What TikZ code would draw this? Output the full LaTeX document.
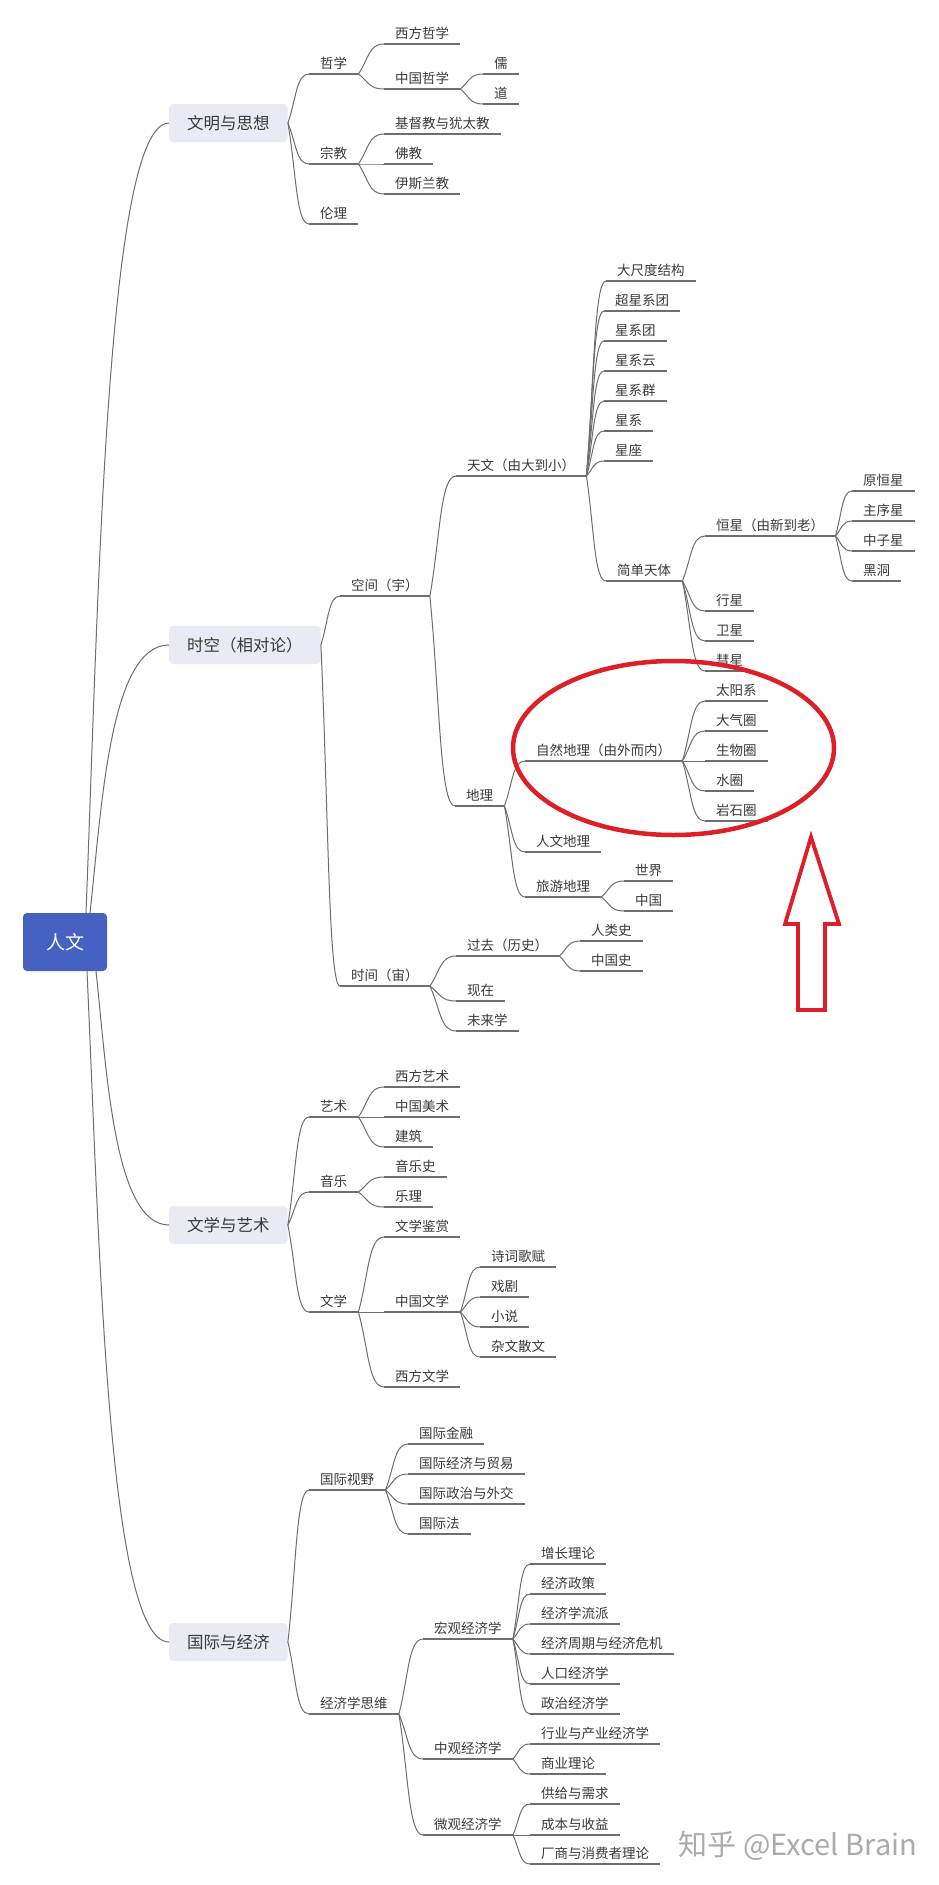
\documentclass[tikz,border=0pt]{standalone}
\usepackage{fontspec}
\setmainfont{Noto Sans CJK SC}
\usetikzlibrary{calc}
\definecolor{linec}{HTML}{6E6E6E}
\definecolor{txtc}{HTML}{3A3A3A}
\definecolor{boxc}{HTML}{E9EAF3}
\definecolor{rootc}{HTML}{4562C3}
\definecolor{redc}{HTML}{DD2027}
\definecolor{wmc}{HTML}{ABABAB}
\begin{document}
\begin{tikzpicture}[x=1pt,y=1pt,
  conn/.style={draw=linec, line width=1pt},
  ul/.style={draw=linec, line width=1.2pt},
  leaf/.style={anchor=south west, inner xsep=11pt, inner ysep=3pt, text height=11pt, text depth=2pt, font=\fontsize{13.5}{16}\selectfont, text=txtc},
  lvl/.style={anchor=west, fill=boxc, rounded corners=4pt, inner xsep=18pt, inner ysep=0pt, minimum height=38pt, text height=14pt, text depth=2pt, font=\fontsize{16.5}{20}\selectfont, text=txtc},
  rootbox/.style={fill=rootc, rounded corners=4pt, minimum width=84pt, minimum height=58pt, inner sep=0pt, text height=16pt, text depth=2pt, font=\fontsize{19}{22}\selectfont, text=white},
  mm/.style={to path={let \p1=(\tikztostart),\p2=(\tikztotarget),\n1={\x1+0.4*(\x2-\x1)},\n2={0.5*(\y1+\y2)},\n3={\y2} in .. controls (\n1,\n2) and (\n1,\n3) .. (\tikztotarget)}},
  rc/.style={to path={let \p1=(\tikztostart),\p2=(\tikztotarget),\n1={\x1+0.15*(\x2-\x1)},\n2={\y1+0.4*(\y2-\y1)},\n3={\x1+0.25*(\x2-\x1)},\n4={\y2} in .. controls (\n1,\n2) and (\n3,\n4) .. (\tikztotarget)}},
  wm/.style={font=\fontsize{29}{32}\selectfont, text=wmc},
]
\fill[white] (0,0) rectangle (939,-1885);
\useasboundingbox (0,0) rectangle (939,-1885);

% root and level-1 boxes
\node[rootbox] (root) at (65,-942) {人文};
\node[lvl] (b1) at (169,-123) {文明与思想};
\node[lvl] (b2) at (169,-645) {时空（相对论）};
\node[lvl] (b3) at (169,-1225) {文学与艺术};
\node[lvl] (b4) at (169,-1642) {国际与经济};

% 文明与思想
\node[leaf] (zx) at (309,-74) {哲学};
\node[leaf] (xfzx) at (384,-44) {西方哲学};
\node[leaf] (zgzx) at (384,-89) {中国哲学};
\node[leaf] (ru) at (483,-74) {儒};
\node[leaf] (dao) at (483,-104) {道};
\node[leaf] (zj) at (309,-164) {宗教};
\node[leaf] (jdj) at (384,-134) {基督教与犹太教};
\node[leaf] (fj) at (384,-164) {佛教};
\node[leaf] (ysl) at (384,-194) {伊斯兰教};
\node[leaf] (ll) at (309,-224) {伦理};

% 时空
\node[leaf] (kj) at (340,-596) {空间（宇）};
\node[leaf] (tw) at (456,-476) {天文（由大到小）};
\node[leaf] (dccd) at (606,-281) {大尺度结构};
\node[leaf] (cxxt) at (604,-311) {超星系团};
\node[leaf] (xxt) at (604,-341) {星系团};
\node[leaf] (xxy) at (604,-371) {星系云};
\node[leaf] (xxq) at (604,-401) {星系群};
\node[leaf] (xx) at (604,-431) {星系};
\node[leaf] (xz) at (604,-461) {星座};
\node[leaf] (jdtt) at (606,-581) {简单天体};
\node[leaf] (hx) at (705,-536) {恒星（由新到老）};
\node[leaf] (yhx) at (852,-491) {原恒星};
\node[leaf] (zxx) at (852,-521) {主序星};
\node[leaf] (zzx) at (852,-551) {中子星};
\node[leaf] (hd) at (852,-581) {黑洞};
\node[leaf] (xing) at (705,-611) {行星};
\node[leaf] (wx) at (705,-641) {卫星};
\node[leaf] (hui) at (705,-671) {彗星};
\node[leaf] (dl) at (455,-806) {地理};
\node[leaf] (zrdl) at (525,-761) {自然地理（由外而内）};
\node[leaf] (tyx) at (705,-701) {太阳系};
\node[leaf] (dqq) at (705,-731) {大气圈};
\node[leaf] (swq) at (705,-761) {生物圈};
\node[leaf] (sq) at (705,-791) {水圈};
\node[leaf] (ysq) at (705,-821) {岩石圈};
\node[leaf] (rwdl) at (525,-852) {人文地理};
\node[leaf] (lydl) at (525,-897) {旅游地理};
\node[leaf] (sj) at (624,-881) {世界};
\node[leaf] (zg) at (624,-911) {中国};
\node[leaf] (sj2) at (340,-986) {时间（宙）};
\node[leaf] (gq) at (456,-956) {过去（历史）};
\node[leaf] (rls) at (580,-941) {人类史};
\node[leaf] (zgs) at (580,-971) {中国史};
\node[leaf] (xzai) at (456,-1001) {现在};
\node[leaf] (wlx) at (456,-1031) {未来学};

% 文学与艺术
\node[leaf] (ys) at (309,-1117) {艺术};
\node[leaf] (xfys) at (384,-1087) {西方艺术};
\node[leaf] (zgms) at (384,-1117) {中国美术};
\node[leaf] (jz) at (384,-1147) {建筑};
\node[leaf] (yy) at (309,-1192) {音乐};
\node[leaf] (yys) at (384,-1177) {音乐史};
\node[leaf] (yl) at (384,-1207) {乐理};
\node[leaf] (wx2) at (309,-1312) {文学};
\node[leaf] (wxjs) at (384,-1237) {文学鉴赏};
\node[leaf] (zgwx) at (384,-1312) {中国文学};
\node[leaf] (scgf) at (480,-1267) {诗词歌赋};
\node[leaf] (xj) at (480,-1297) {戏剧};
\node[leaf] (xs) at (480,-1327) {小说};
\node[leaf] (zwsw) at (480,-1357) {杂文散文};
\node[leaf] (xfwx) at (384,-1387) {西方文学};

% 国际与经济
\node[leaf] (gjsy) at (309,-1490) {国际视野};
\node[leaf] (gjjr) at (408,-1444) {国际金融};
\node[leaf] (gjjm) at (408,-1474) {国际经济与贸易};
\node[leaf] (gjzz) at (408,-1504) {国际政治与外交};
\node[leaf] (gjf) at (408,-1534) {国际法};
\node[leaf] (jjsw) at (309,-1714) {经济学思维};
\node[leaf] (hg) at (423,-1639) {宏观经济学};
\node[leaf] (zzll) at (530,-1564) {增长理论};
\node[leaf] (jjzc) at (530,-1594) {经济政策};
\node[leaf] (jjlp) at (530,-1624) {经济学流派};
\node[leaf] (jjzq) at (530,-1654) {经济周期与经济危机};
\node[leaf] (rk) at (530,-1684) {人口经济学};
\node[leaf] (zzjj) at (530,-1714) {政治经济学};
\node[leaf] (zg2) at (423,-1759) {中观经济学};
\node[leaf] (hy) at (530,-1744) {行业与产业经济学};
\node[leaf] (syll) at (530,-1774) {商业理论};
\node[leaf] (wg) at (423,-1835) {微观经济学};
\node[leaf] (gj) at (530,-1804) {供给与需求};
\node[leaf] (cb) at (530,-1835) {成本与收益};
\node[leaf] (cs) at (530,-1864) {厂商与消费者理论};

% underlines
\foreach \nm in {zx,xfzx,zgzx,ru,dao,zj,jdj,fj,ysl,ll,
  kj,tw,dccd,cxxt,xxt,xxy,xxq,xx,xz,jdtt,hx,yhx,zxx,zzx,hd,xing,wx,hui,
  dl,zrdl,tyx,dqq,swq,sq,ysq,rwdl,lydl,sj,zg,sj2,gq,rls,zgs,xzai,wlx,
  ys,xfys,zgms,jz,yy,yys,yl,wx2,wxjs,zgwx,scgf,xj,xs,zwsw,xfwx,
  gjsy,gjjr,gjjm,gjzz,gjf,jjsw,hg,zzll,jjzc,jjlp,jjzq,rk,zzjj,zg2,hy,syll,wg,gj,cb,cs}
  \draw[ul] (\nm.south west) -- (\nm.south east);

% root connectors
\draw[conn] ([xshift=21pt]root.north) to[rc] (b1.west);
\draw[conn] ([xshift=25pt]root.north) to[rc] (b2.west);
\draw[conn] ([xshift=31pt]root.south) to[rc] (b3.west);
\draw[conn] ([xshift=22pt]root.south) to[rc] (b4.west);

% box connectors
\foreach \a/\b in {b1/zx,b1/zj,b1/ll,b2/kj,b2/sj2,b3/ys,b3/yy,b3/wx2,b4/gjsy,b4/jjsw}
  \draw[conn] (\a.east) to[mm] (\b.south west);

% node connectors
\foreach \a/\b in {zx/xfzx,zx/zgzx,zgzx/ru,zgzx/dao,zj/jdj,zj/fj,zj/ysl,
  kj/tw,kj/dl,tw/dccd,tw/cxxt,tw/xxt,tw/xxy,tw/xxq,tw/xx,tw/xz,tw/jdtt,
  jdtt/hx,jdtt/xing,jdtt/wx,jdtt/hui,hx/yhx,hx/zxx,hx/zzx,hx/hd,
  dl/zrdl,dl/rwdl,dl/lydl,zrdl/tyx,zrdl/dqq,zrdl/swq,zrdl/sq,zrdl/ysq,lydl/sj,lydl/zg,
  sj2/gq,sj2/xzai,sj2/wlx,gq/rls,gq/zgs,
  ys/xfys,ys/zgms,ys/jz,yy/yys,yy/yl,wx2/wxjs,wx2/zgwx,wx2/xfwx,
  zgwx/scgf,zgwx/xj,zgwx/xs,zgwx/zwsw,
  gjsy/gjjr,gjsy/gjjm,gjsy/gjzz,gjsy/gjf,jjsw/hg,jjsw/zg2,jjsw/wg,
  hg/zzll,hg/jjzc,hg/jjlp,hg/jjzq,hg/rk,hg/zzjj,zg2/hy,zg2/syll,wg/gj,wg/cb,wg/cs}
  \draw[conn] (\a.south east) to[mm] (\b.south west);

% red annotations
\draw[redc, line width=4.5pt] (673.5,-748) ellipse [x radius=160.5, y radius=87];
\draw[redc, line width=3.8pt, line join=miter] (811,-837) -- (839,-924) -- (825,-924) -- (825,-1010) -- (798,-1010) -- (798,-924) -- (785,-924) -- cycle;

% watermark
\node[wm] (wmk) at (798,-1846) {知乎 @Excel Brain};
\end{tikzpicture}
\end{document}
